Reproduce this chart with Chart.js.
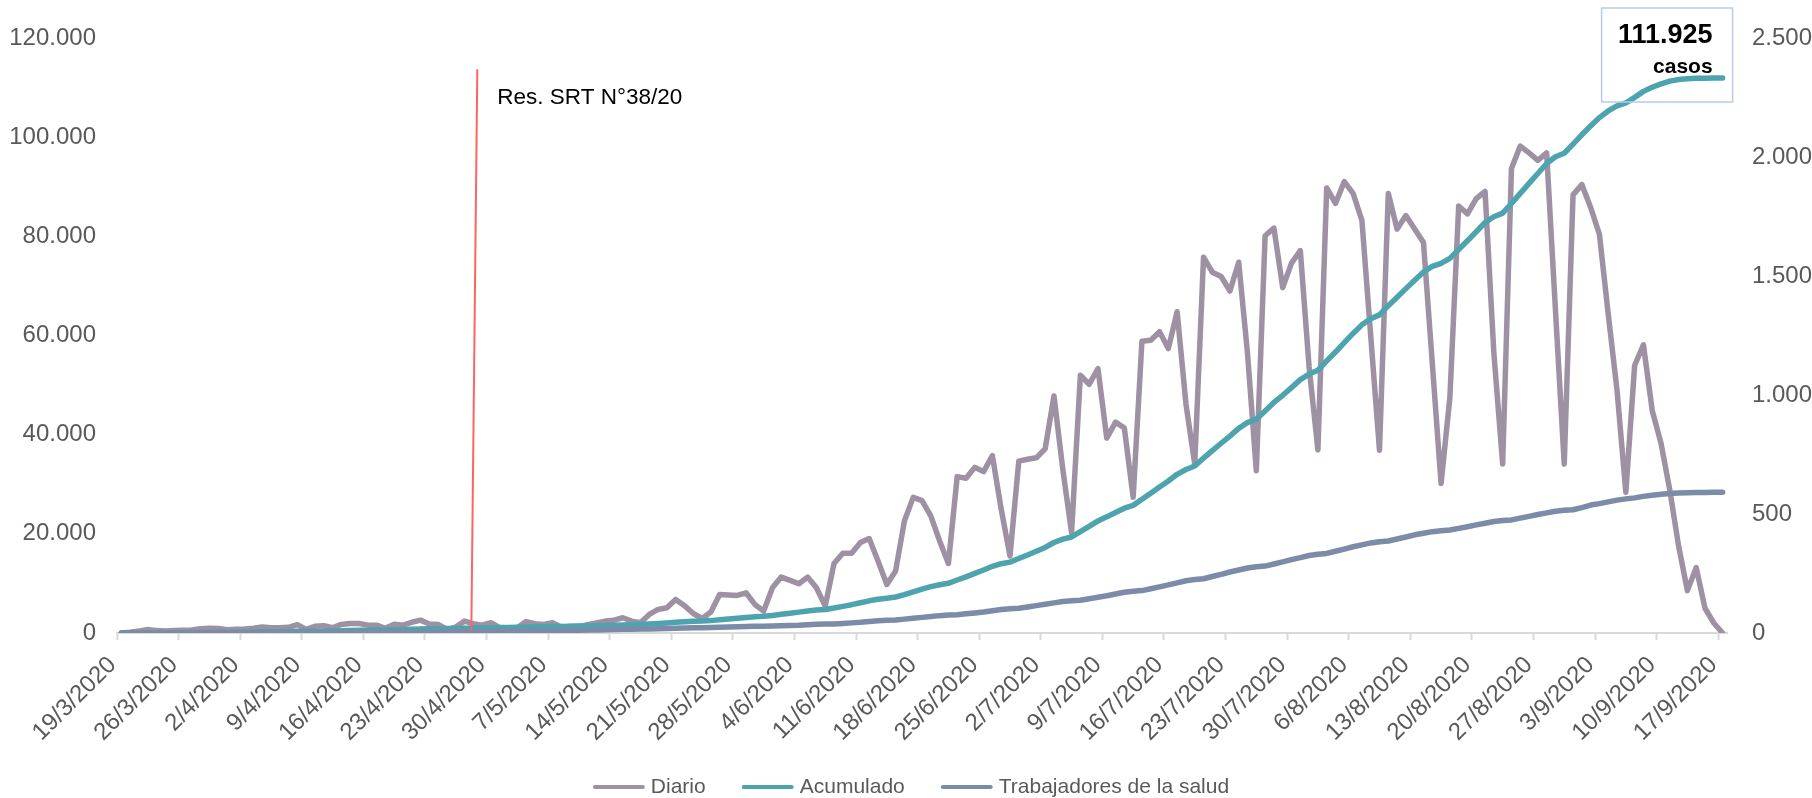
<!DOCTYPE html>
<html lang="es">
<head>
<meta charset="utf-8">
<title>Casos diarios y acumulados</title>
<script src="https://cdn.jsdelivr.net/npm/chart.js@4.4.1/dist/chart.umd.min.js"></script>
<style>
  html, body { margin: 0; padding: 0; background: #fff; }
  #chart { display: block; }
</style>
</head>
<body>
<canvas id="chart" width="1812" height="798"></canvas>
<script>
// one category per day, 19/3/2020 .. 17/9/2020
const categories = [
  '19/3/2020','20/3/2020','21/3/2020','22/3/2020','23/3/2020','24/3/2020','25/3/2020','26/3/2020','27/3/2020','28/3/2020','29/3/2020','30/3/2020','31/3/2020',
  '1/4/2020','2/4/2020','3/4/2020','4/4/2020','5/4/2020','6/4/2020','7/4/2020','8/4/2020','9/4/2020','10/4/2020','11/4/2020','12/4/2020','13/4/2020','14/4/2020','15/4/2020',
  '16/4/2020','17/4/2020','18/4/2020','19/4/2020','20/4/2020','21/4/2020','22/4/2020','23/4/2020','24/4/2020','25/4/2020','26/4/2020','27/4/2020','28/4/2020','29/4/2020','30/4/2020',
  '1/5/2020','2/5/2020','3/5/2020','4/5/2020','5/5/2020','6/5/2020','7/5/2020','8/5/2020','9/5/2020','10/5/2020','11/5/2020','12/5/2020','13/5/2020','14/5/2020','15/5/2020',
  '16/5/2020','17/5/2020','18/5/2020','19/5/2020','20/5/2020','21/5/2020','22/5/2020','23/5/2020','24/5/2020','25/5/2020','26/5/2020','27/5/2020','28/5/2020','29/5/2020','30/5/2020','31/5/2020',
  '1/6/2020','2/6/2020','3/6/2020','4/6/2020','5/6/2020','6/6/2020','7/6/2020','8/6/2020','9/6/2020','10/6/2020','11/6/2020','12/6/2020','13/6/2020','14/6/2020','15/6/2020',
  '16/6/2020','17/6/2020','18/6/2020','19/6/2020','20/6/2020','21/6/2020','22/6/2020','23/6/2020','24/6/2020','25/6/2020','26/6/2020','27/6/2020','28/6/2020','29/6/2020','30/6/2020',
  '1/7/2020','2/7/2020','3/7/2020','4/7/2020','5/7/2020','6/7/2020','7/7/2020','8/7/2020','9/7/2020','10/7/2020','11/7/2020','12/7/2020','13/7/2020','14/7/2020','15/7/2020',
  '16/7/2020','17/7/2020','18/7/2020','19/7/2020','20/7/2020','21/7/2020','22/7/2020','23/7/2020','24/7/2020','25/7/2020','26/7/2020','27/7/2020','28/7/2020','29/7/2020','30/7/2020','31/7/2020',
  '1/8/2020','2/8/2020','3/8/2020','4/8/2020','5/8/2020','6/8/2020','7/8/2020','8/8/2020','9/8/2020','10/8/2020','11/8/2020','12/8/2020','13/8/2020','14/8/2020','15/8/2020',
  '16/8/2020','17/8/2020','18/8/2020','19/8/2020','20/8/2020','21/8/2020','22/8/2020','23/8/2020','24/8/2020','25/8/2020','26/8/2020','27/8/2020','28/8/2020','29/8/2020','30/8/2020','31/8/2020',
  '1/9/2020','2/9/2020','3/9/2020','4/9/2020','5/9/2020','6/9/2020','7/9/2020','8/9/2020','9/9/2020','10/9/2020','11/9/2020','12/9/2020','13/9/2020','14/9/2020','15/9/2020','16/9/2020','17/9/2020'
];

// a date label is written once a week
const tickEvery = 7;

// daily cases (right axis)
const diario = [
  0, 3, 8, 15, 10, 8, 10, 12, 13, 18,
  20, 19, 14, 16, 17, 20, 25, 22, 22, 24,
  35, 15, 28, 31, 22, 36, 40, 40, 33, 33,
  20, 37, 33, 45, 54, 38, 36, 15, 25, 50,
  39, 33, 43, 22, 22, 22, 48, 39, 36, 43,
  25, 27, 28, 35, 42, 50, 54, 64, 50, 43,
  78, 99, 106, 141, 115, 82, 61, 88, 162, 160,
  158, 169, 120, 92, 190, 235, 221, 207, 235, 190,
  113, 292, 335, 335, 380, 397, 303, 204, 261, 471,
  570, 556, 492, 387, 292, 657, 650, 696, 678, 745,
  521, 324, 722, 730, 736, 774, 996, 689, 422, 1083,
  1045, 1111, 819, 886, 861, 570, 1226, 1230, 1266, 1195,
  1350, 963, 710, 1579, 1516, 1498, 1437, 1558, 1174, 682,
  1669, 1701, 1451, 1554, 1607, 1118, 769, 1870, 1805, 1897,
  1847, 1734, 1250, 768, 1847, 1697, 1754, 1697, 1641, 1135,
  628, 989, 1794, 1761, 1825, 1855, 1177, 710, 1952, 2046,
  2017, 1986, 2017, 1358, 710, 1841, 1884, 1788, 1675, 1340,
  1020, 591, 1124, 1211, 935, 797, 600, 365, 178, 275,
  104, 42, 0
];

// cumulative cases (left axis)
const acumulado = [
  0, 3, 11, 26, 36, 44, 54, 66, 79, 97,
  117, 136, 150, 166, 183, 203, 228, 250, 272, 296,
  331, 346, 374, 405, 427, 463, 503, 543, 576, 609,
  629, 666, 699, 744, 798, 836, 872, 887, 912, 962,
  1001, 1034, 1077, 1099, 1121, 1143, 1191, 1230, 1266, 1309,
  1334, 1361, 1389, 1424, 1466, 1516, 1570, 1634, 1684, 1727,
  1805, 1904, 2010, 2151, 2266, 2348, 2409, 2497, 2659, 2819,
  2977, 3146, 3266, 3358, 3548, 3783, 4004, 4211, 4446, 4636,
  4749, 5041, 5376, 5711, 6091, 6488, 6791, 6995, 7256, 7727,
  8297, 8853, 9345, 9732, 10024, 10681, 11331, 12027, 12705, 13450,
  13971, 14295, 15017, 15747, 16483, 17257, 18253, 18942, 19364, 20447,
  21492, 22603, 23422, 24308, 25169, 25739, 26965, 28195, 29461, 30656,
  32006, 32969, 33679, 35258, 36774, 38272, 39709, 41267, 42441, 43123,
  44792, 46493, 47944, 49498, 51105, 52223, 52992, 54862, 56667, 58564,
  60411, 62145, 63395, 64163, 66010, 67707, 69461, 71158, 72799, 73934,
  74562, 75551, 77345, 79106, 80931, 82786, 83963, 84673, 86625, 88671,
  90688, 92674, 94691, 96049, 96759, 98600, 100484, 102272, 103947, 105287,
  106307, 106898, 108022, 109233, 110070, 110760, 111300, 111620, 111780, 111860,
  111900, 111920, 111925
];

// cumulative cases among health workers (left axis)
const trabajadores = [
  0, 2, 5, 6, 7, 10, 12,
  15, 20, 25, 28, 29, 35, 40,
  45, 52, 59, 64, 67, 74, 82,
  90, 100, 109, 115, 119, 129, 139,
  150, 164, 179, 188, 193, 209, 224,
  240, 258, 275, 286, 293, 312, 330,
  350, 371, 392, 405, 412, 435, 457,
  480, 515, 550, 572, 586, 623, 660,
  700, 740, 780, 805, 820, 863, 905,
  950, 998, 1046, 1076, 1094, 1145, 1196,
  1250, 1298, 1346, 1376, 1394, 1445, 1496,
  1550, 1646, 1742, 1802, 1838, 1940, 2042,
  2150, 2310, 2470, 2570, 2630, 2800, 2970,
  3150, 3326, 3502, 3612, 3678, 3865, 4052,
  4250, 4498, 4746, 4901, 4994, 5258, 5521,
  5800, 6072, 6344, 6514, 6616, 6905, 7194,
  7500, 7852, 8204, 8424, 8556, 8930, 9304,
  9700, 10116, 10532, 10792, 10948, 11390, 11832,
  12300, 12700, 13100, 13350, 13500, 13925, 14350,
  14800, 15216, 15632, 15892, 16048, 16490, 16932,
  17400, 17784, 18168, 18408, 18552, 18960, 19368,
  19800, 20120, 20440, 20640, 20760, 21100, 21440,
  21800, 22136, 22472, 22682, 22808, 23165, 23522,
  23900, 24220, 24540, 24740, 24860, 25300, 25800,
  26100, 26450, 26800, 27050, 27250, 27550, 27800,
  28000, 28150, 28250, 28300, 28340, 28360, 28370,
  28370
];

// annotations
const resDate = '28/4/2020';
const resLabel = 'Res. SRT N°38/20';
const resTop = 113700;
const resLabelAt = 108000;
const totalLabel = ['111.925', 'casos'];

const FONT = "'Liberation Sans', Arial, sans-serif";
const GREY_TEXT = '#595959';

// 120000 -> "120.000"
const miles = n => String(n).replace(/\B(?=(\d{3})+(?!\d))/g, '.');

// draws the red resolution marker and the total box
const notes = {
  id: 'notes',
  afterDatasetsDraw(chart) {
    const { ctx, chartArea, scales: { x, y } } = chart;
    ctx.save();

    // red line for the resolution date, slightly slanted like the original
    const xi = x.getPixelForValue(categories.indexOf(resDate));
    ctx.strokeStyle = '#ff6464';
    ctx.lineWidth = 2;
    ctx.beginPath();
    ctx.moveTo(xi - 2, y.getPixelForValue(0) - 2);
    ctx.lineTo(xi + 4, y.getPixelForValue(resTop));
    ctx.stroke();

    ctx.fillStyle = '#000';
    ctx.font = '22.5px ' + FONT;
    ctx.textAlign = 'left';
    ctx.textBaseline = 'middle';
    ctx.fillText(resLabel, xi + 24, y.getPixelForValue(resLabelAt));

    // box with the final total
    const xl = x.getPixelForValue(categories.length - 1);
    const bx = xl - 121, by = chartArea.top - 30, bw = 131, bh = 94;
    ctx.strokeStyle = '#b9cbe8';
    ctx.lineWidth = 1.5;
    ctx.strokeRect(bx, by, bw, bh);

    ctx.fillStyle = '#000';
    ctx.textAlign = 'right';
    ctx.font = 'bold 27px ' + FONT;
    ctx.fillText(totalLabel[0], xl - 10, by + 28);
    ctx.font = 'bold 21px ' + FONT;
    ctx.fillText(totalLabel[1], xl - 10, by + 59);

    ctx.restore();
  }
};

// legend under the dates: short round-capped line + series name
const bottomLegend = {
  id: 'bottomLegend',
  afterDraw(chart) {
    const { ctx } = chart;
    const items = chart.data.datasets.map(d => ({ text: d.label, color: d.borderColor }));
    const mark = 52, gap = 6, space = 36, yMid = chart.height - 11;
    ctx.save();
    ctx.font = '21px ' + FONT;
    const widths = items.map(it => mark + gap + ctx.measureText(it.text).width);
    const total = widths.reduce((a, b) => a + b, 0) + space * (items.length - 1);
    let left = chart.width / 2 + 5 - total / 2;
    items.forEach((it, i) => {
      ctx.strokeStyle = it.color;
      ctx.lineWidth = 4;
      ctx.lineCap = 'round';
      ctx.beginPath();
      ctx.moveTo(left + 2, yMid);
      ctx.lineTo(left + mark - 2, yMid);
      ctx.stroke();
      ctx.fillStyle = GREY_TEXT;
      ctx.textAlign = 'left';
      ctx.textBaseline = 'middle';
      ctx.fillText(it.text, left + mark + gap, yMid);
      left += widths[i] + space;
    });
    ctx.restore();
  }
};

const lineStyle = {
  borderWidth: 5.5,
  pointRadius: 0,
  pointHoverRadius: 0,
  tension: 0,
  borderCapStyle: 'round',
  borderJoinStyle: 'round',
  fill: false,
};

new Chart(document.getElementById('chart'), {
  type: 'line',
  data: {
    labels: categories,
    datasets: [
      { ...lineStyle, label: 'Diario', data: diario, yAxisID: 'y2',
        borderColor: '#9e91a3', backgroundColor: '#9e91a3', order: 3 },
      { ...lineStyle, label: 'Acumulado', data: acumulado, yAxisID: 'y',
        borderColor: '#4da4ae', backgroundColor: '#4da4ae', order: 2 },
      { ...lineStyle, label: 'Trabajadores de la salud', data: trabajadores, yAxisID: 'y',
        borderColor: '#7b8ba8', backgroundColor: '#7b8ba8', order: 1 },
    ],
  },
  options: {
    responsive: false,
    animation: false,
    devicePixelRatio: 1,
    layout: { padding: { top: 38, left: 0, right: 0, bottom: 0 } },
    plugins: {
      tooltip: { enabled: false },
      legend: { display: false },
    },
    scales: {
      x: {
        type: 'category',
        offset: true,
        grid: {
          offset: true,
          drawOnChartArea: false,
          drawTicks: true,
          tickLength: 7,
          tickWidth: 2,
          tickColor: ctx => (ctx.index % tickEvery === 0 ? '#d9d9d9' : 'rgba(0,0,0,0)'),
        },
        border: { display: true, color: '#d9d9d9', width: 2 },
        ticks: {
          autoSkip: false,
          minRotation: 45,
          maxRotation: 45,
          padding: 11,
          labelOffset: -9,
          color: GREY_TEXT,
          font: { family: FONT, size: 24 },
          callback(value, index) {
            return index % tickEvery === 0 ? this.getLabelForValue(value) : '';
          },
        },
        afterFit: s => { s.height = 165; },
      },
      y: {
        position: 'left',
        min: 0,
        max: 120000,
        grid: { display: false },
        border: { display: false },
        ticks: {
          stepSize: 20000,
          padding: 13,
          color: GREY_TEXT,
          font: { family: FONT, size: 24 },
          callback: v => miles(v),
        },
        afterFit: s => { s.width = 117; },
      },
      y2: {
        position: 'right',
        min: 0,
        max: 2500,
        grid: { display: false },
        border: { display: false },
        ticks: {
          stepSize: 500,
          padding: 17,
          color: GREY_TEXT,
          font: { family: FONT, size: 24 },
          callback: v => miles(v),
        },
        afterFit: s => { s.width = 85; },
      },
    },
  },
  plugins: [notes, bottomLegend],
});
</script>
</body>
</html>
